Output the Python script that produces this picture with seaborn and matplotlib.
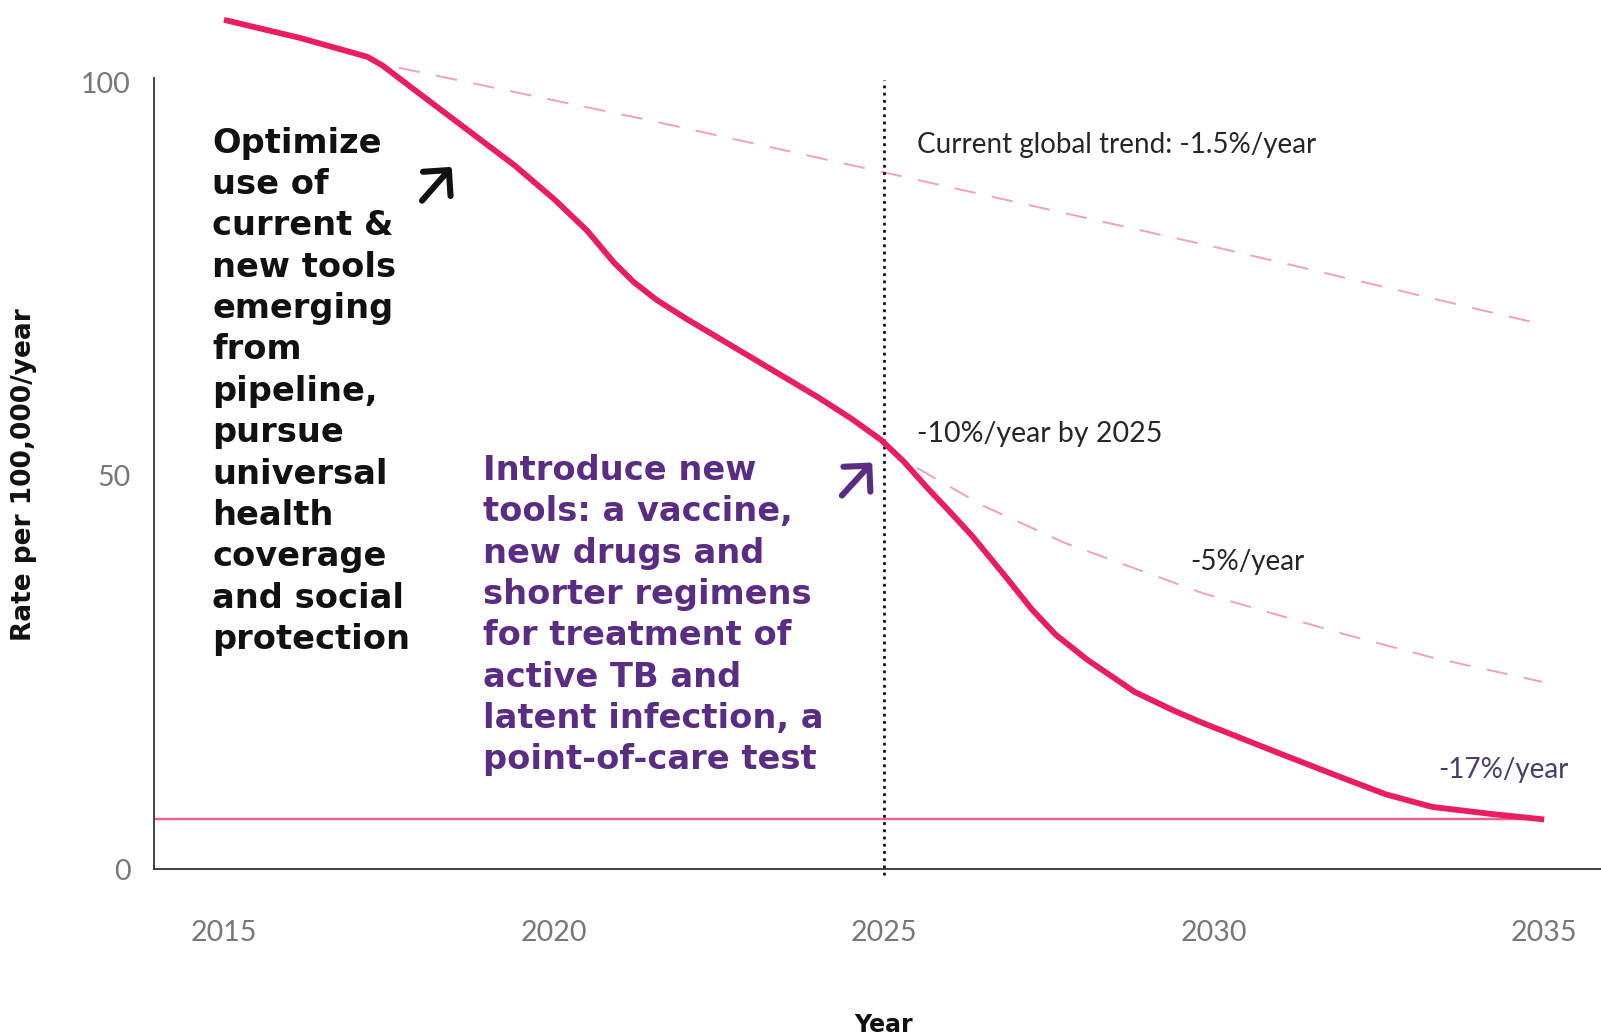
import matplotlib
matplotlib.use("Agg")
import matplotlib.pyplot as plt
import pandas as pd
import seaborn as sns

# Projected TB incidence with new tools (rate per 100,000 per year)
years_main = [2015.0, 2016.15, 2017.17, 2017.4, 2017.65, 2018.2, 2018.8, 2019.4,
              2020.0, 2020.5, 2020.9, 2021.2, 2021.55, 2022.0, 2022.5, 2023.0,
              2023.5, 2024.0, 2024.5, 2024.95, 2025.3, 2025.64, 2026.0, 2026.33,
              2026.8, 2027.24, 2027.6, 2028.08, 2028.8, 2029.4, 2029.82, 2030.9,
              2031.91, 2032.6, 2033.3, 2034.2, 2035.0]
rate_main = [108.0, 105.7, 103.3, 102.2, 100.6, 97.1, 93.3, 89.5,
             85.2, 81.2, 77.2, 74.7, 72.4, 70.0, 67.5, 65.0,
             62.5, 60.0, 57.3, 54.6, 51.8, 48.6, 45.4, 42.4,
             37.6, 33.0, 29.8, 26.6, 22.5, 20.1, 18.6, 15.0,
             11.7, 9.5, 7.9, 7.0, 6.3]

# Current global trend (-1.5%/year)
years_trend = [2017.65, 2021.4, 2025.0, 2030.17, 2035.0]
rate_trend = [101.9, 95.3, 88.6, 78.8, 69.2]

# Decline of -5%/year after 2025
years_5pct = [2025.5, 2026.5, 2027.73, 2029.82, 2031.91, 2033.3, 2034.97]
rate_5pct = [51.0, 46.2, 41.5, 35.1, 30.0, 26.9, 23.8]

target_rate = 6.3
milestone_year = 2025
x_ticks = [2015, 2020, 2025, 2030, 2035]
y_ticks = [0, 50, 100]

black_text = ["Optimize", "use of", "current &", "new tools", "emerging", "from",
              "pipeline,", "pursue", "universal", "health", "coverage",
              "and social", "protection"]
purple_text = ["Introduce new", "tools: a vaccine,", "new drugs and",
               "shorter regimens", "for treatment of", "active TB and",
               "latent infection, a", "point-of-care test"]

PINK = "#ea1c63"
LIGHT_PINK = "#f2a0bb"
LINE_PINK = "#ef5d93"
PURPLE = "#5b2c83"
GREY_PURPLE = "#4b3c6c"

sns.set_theme(style="white")
plt.rcParams["font.family"] = ["DejaVu Sans"]

fig = plt.figure(figsize=(16.01, 10.35), dpi=100)
ax = fig.add_axes([154 / 1601, 1 - 869 / 1035, 1 - 154 / 1601, (869 - 78) / 1035])
x_min, x_max = 2013.94, 2035.86
ax.set_xlim(x_min, x_max)
ax.set_ylim(0, 100.6)

main_df = pd.DataFrame({"year": years_main, "rate": rate_main})
trend_df = pd.DataFrame({"year": years_trend, "rate": rate_trend})
five_df = pd.DataFrame({"year": years_5pct, "rate": rate_5pct})

# dashed scenario lines
sns.lineplot(data=trend_df, x="year", y="rate", ax=ax, color=LIGHT_PINK,
             linewidth=1.4, clip_on=False)
ax.lines[-1].set_dashes((11, 8.5))
sns.lineplot(data=five_df, x="year", y="rate", ax=ax, color=LIGHT_PINK,
             linewidth=1.4, clip_on=False)
ax.lines[-1].set_dashes((11, 8.5))

# target level
ax.plot([x_min, x_ticks[-1]], [target_rate, target_rate], color=LINE_PINK,
        linewidth=1.7, solid_capstyle="butt", zorder=2)

# milestone marker
ax.plot([milestone_year, milestone_year], [-0.8, 100.4], color="#111111",
        linewidth=2.0, linestyle=(0, (1, 1.6)), dash_capstyle="butt",
        clip_on=False, zorder=3)

# main projection
sns.lineplot(data=main_df, x="year", y="rate", ax=ax, color=PINK,
             linewidth=4.2, clip_on=False, zorder=4)
ax.lines[-1].set_solid_capstyle("butt")
ax.lines[-1].set_solid_joinstyle("round")

for side in ["top", "right"]:
    ax.spines[side].set_visible(False)
for side in ["left", "bottom"]:
    ax.spines[side].set_color("#333333")
    ax.spines[side].set_linewidth(1.3)

ax.set_xticks(x_ticks)
ax.set_yticks(y_ticks)
ax.tick_params(axis="both", length=0, labelcolor="#777777", labelsize=20.5)
ax.tick_params(axis="x", pad=37)
ax.tick_params(axis="y", pad=17)
for lbl in ax.get_xticklabels() + ax.get_yticklabels():
    lbl.set_fontfamily(["Lato", "DejaVu Sans"])
    lbl.set_fontweight("normal")

ax.set_xlabel("Year", fontsize=17, fontweight="bold", color="#111111")
ax.xaxis.set_label_coords((884 - 154) / 1447, (869 - 1025) / 791)
ax.xaxis.label.set_verticalalignment("center")
ax.set_ylabel("Rate per 100,000/year", fontsize=19, fontweight="bold", color="#111111")
ax.yaxis.set_label_coords((24 - 154) / 1447, (869 - 475) / 791)
ax.yaxis.label.set_verticalalignment("center")

# strategy text blocks
line_step = 5.26
for i, line in enumerate(black_text):
    ax.text(2014.82, 91.1 - i * line_step, line, fontsize=24.2, fontweight="bold",
            color="#111111", ha="left", va="baseline")
for i, line in enumerate(purple_text):
    ax.text(2018.92, 49.5 - i * line_step, line, fontsize=24.2, fontweight="bold",
            color=PURPLE, ha="left", va="baseline")

arrow_style = "->,head_length=0.55,head_width=0.55"
ax.annotate("", xy=(2018.45, 89.3), xytext=(2018.0, 85.0),
            arrowprops=dict(arrowstyle=arrow_style, color="#111111", lw=4.4,
                            mutation_scale=24, shrinkA=0, shrinkB=0))
ax.annotate("", xy=(2024.82, 51.7), xytext=(2024.36, 47.5),
            arrowprops=dict(arrowstyle=arrow_style, color=PURPLE, lw=4.4,
                            mutation_scale=24, shrinkA=0, shrinkB=0))

label_font = ["Lato", "DejaVu Sans"]
ax.text(2025.5, 91.1, "Current global trend: -1.5%/year", fontsize=20,
        family=label_font, color="#262626", va="baseline")
ax.text(2025.5, 54.3, "-10%/year by 2025", fontsize=20.5,
        family=label_font, color="#262626", va="baseline")
ax.text(2029.64, 38.0, "-5%/year", fontsize=20,
        family=label_font, color="#262626", va="baseline")
ax.text(2033.39, 11.6, "-17%/year", fontsize=20,
        family=label_font, color=GREY_PURPLE, va="baseline")

fig.savefig("out.png", dpi=100, facecolor="white")
